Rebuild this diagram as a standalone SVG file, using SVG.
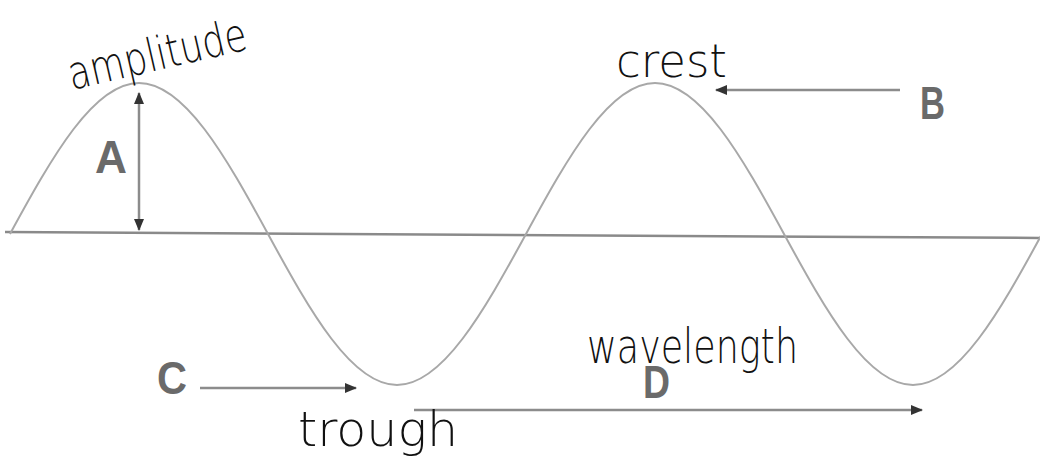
<svg xmlns="http://www.w3.org/2000/svg" width="1040" height="466" viewBox="0 0 1040 466">
<style>
.hand{font-family:"DejaVu Sans","Liberation Sans",sans-serif;font-weight:200;fill:#111;}
.lbl{font-family:"Liberation Sans",Arial,sans-serif;font-weight:bold;font-size:46px;fill:#6a6a6a;}
.wave{fill:none;stroke:#a8a8a8;stroke-width:2;}
.axis{stroke:#8a8a8a;stroke-width:2.5;fill:none;}
.arr{stroke:#8c8c8c;stroke-width:2.5;fill:none;}
</style>
<defs>
<marker id="ah" viewBox="0 0 12 10" refX="11" refY="5" markerWidth="12" markerHeight="10" orient="auto-start-reverse" markerUnits="userSpaceOnUse">
<path d="M0,0 L12,5 L0,10 z" fill="#333"/>
</marker>
</defs>
<rect width="1040" height="466" fill="#fff"/>
<g id="axis">
<path class="axis" d="M5,232 L1040,238"/>
</g>
<g id="wave">
<path class="wave" d="M10,234 c42.06,-77.3 83.65,-151 129,-151 c45.35,0 86.94,73.7 129,151 c42.06,77.3 83.65,151 129,151 c45.35,0 86.94,-73.7 129,-151 c42.06,-77.3 83.65,-151 129,-151 c45.35,0 86.94,73.7 129,151 c42.06,77.3 83.65,151 129,151 c45.35,0 86.94,-73.7 129,-151 c42.06,-77.3 83.65,-151 129,-151"/>
</g>
<g id="connectors">
<line class="arr" x1="139" y1="93" x2="139" y2="230" marker-start="url(#ah)" marker-end="url(#ah)"/>
<line class="arr" x1="900" y1="90" x2="716" y2="90" marker-end="url(#ah)"/>
<line class="arr" x1="200" y1="388" x2="356" y2="388" marker-end="url(#ah)"/>
<line class="arr" x1="414" y1="410" x2="922" y2="410" marker-end="url(#ah)"/>
</g>
<g id="amplitude">
<text class="hand" font-size="46" x="72" y="90" textLength="182" lengthAdjust="spacingAndGlyphs" transform="rotate(-13 72 90)">amplitude</text>
</g>
<g id="crest">
<text class="hand" font-size="46" x="616" y="77" textLength="111" lengthAdjust="spacingAndGlyphs">crest</text>
</g>
<g id="trough">
<text class="hand" font-size="48" x="298" y="446" textLength="160" lengthAdjust="spacingAndGlyphs">trough</text>
</g>
<g id="wavelength">
<text class="hand" font-size="48" x="587" y="363" textLength="211" lengthAdjust="spacingAndGlyphs">wavelength</text>
</g>
<g id="labelA"><text class="lbl" x="95" y="173" textLength="32" lengthAdjust="spacingAndGlyphs">A</text></g>
<g id="labelB"><text class="lbl" x="920" y="119" textLength="25" lengthAdjust="spacingAndGlyphs">B</text></g>
<g id="labelC"><text class="lbl" x="157" y="394" textLength="30" lengthAdjust="spacingAndGlyphs">C</text></g>
<g id="labelD"><text class="lbl" x="643" y="398" textLength="27" lengthAdjust="spacingAndGlyphs">D</text></g>
</svg>
